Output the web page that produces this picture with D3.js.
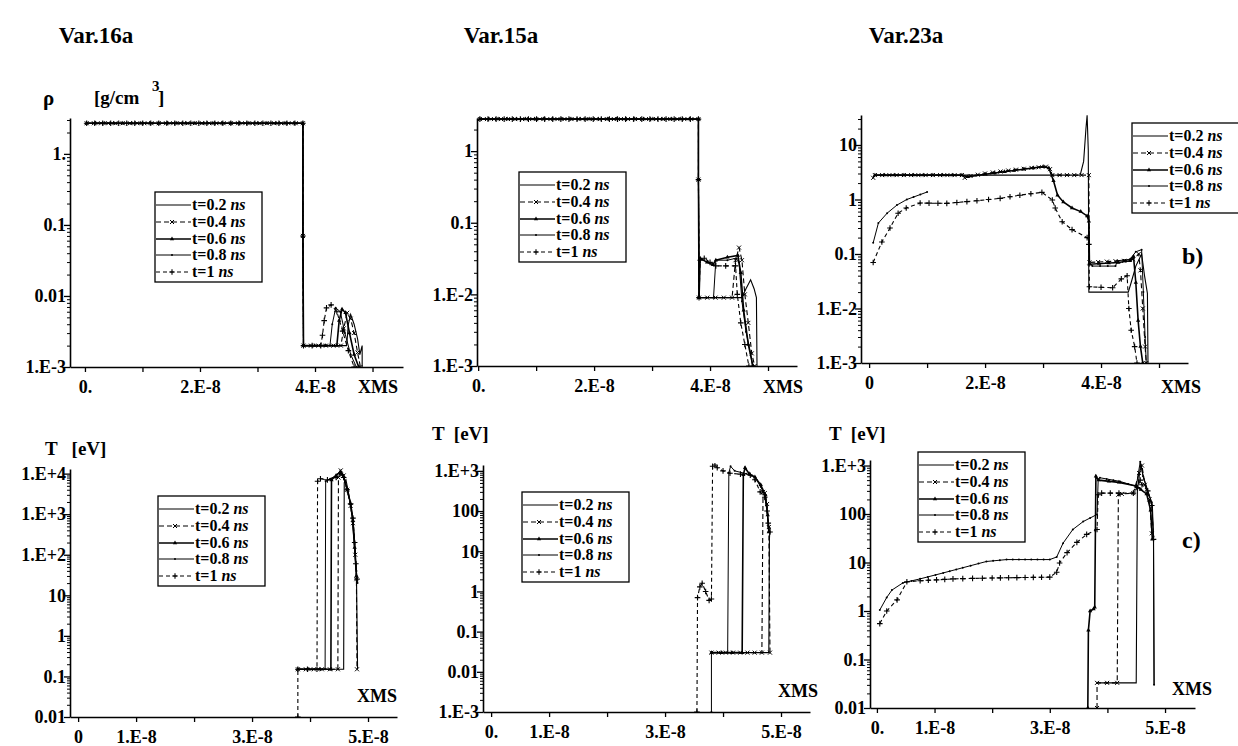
<!DOCTYPE html>
<html><head><meta charset="utf-8">
<script src="https://cdn.jsdelivr.net/npm/d3@7"></script>
<style>body{margin:0;background:#fff}</style></head>
<body><svg id="c" width="1238" height="746"></svg>
<script>
// ---------- DATA (x in units of 1e-8 XMS) ----------
const seriesNames = ["t=0.2", "t=0.4", "t=0.6", "t=0.8", "t=1"];
const panelTitles = ["Var.16a", "Var.15a", "Var.23a"];
const xTickValues = [0, 1, 2, 3, 4, 5];

const rho16_t02 = [[0.03,2.7],[3.79,2.7],[3.79,0.07],[3.8,0.002],[4.55,0.002],[4.58,0.004],[4.62,0.0055],[4.68,0.004],[4.74,0.0025],[4.78,0.0015],[4.82,0.002],[4.82,0.001]];
const rho16_t04 = [[0.03,2.7],[3.79,2.7],[3.79,0.07],[3.8,0.002],[4.45,0.002],[4.5,0.0035],[4.56,0.0058],[4.62,0.0048],[4.68,0.003],[4.74,0.0016],[4.79,0.001]];
const rho16_t06 = [[0.03,2.7],[3.79,2.7],[3.79,0.07],[3.8,0.002],[4.38,0.002],[4.42,0.0045],[4.47,0.0065],[4.53,0.0058],[4.6,0.003],[4.68,0.0015],[4.76,0.001]];
const rho16_t08 = [[0.03,2.7],[3.79,2.7],[3.79,0.07],[3.8,0.002],[4.26,0.002],[4.3,0.004],[4.36,0.0068],[4.44,0.006],[4.52,0.003],[4.62,0.0015],[4.72,0.001]];
const rho16_t10 = [[0.03,2.7],[3.79,2.7],[3.79,0.07],[3.8,0.002],[4.1,0.002],[4.13,0.0028],[4.16,0.0045],[4.2,0.0068],[4.28,0.0075],[4.38,0.006],[4.48,0.0032],[4.58,0.0017],[4.68,0.001]];

const rho15_t02 = [[0.03,2.8],[3.8,2.8],[3.8,0.4],[3.81,0.009],[4.55,0.009],[4.62,0.012],[4.7,0.016],[4.76,0.012],[4.8,0.009],[4.81,0.001]];
const rho15_t04 = [[0.03,2.8],[3.8,2.8],[3.8,0.4],[3.81,0.009],[4.38,0.009],[4.44,0.03],[4.5,0.045],[4.55,0.03],[4.6,0.01],[4.66,0.004],[4.72,0.0015],[4.77,0.001]];
const rho15_t06 = [[0.03,2.8],[3.8,2.8],[3.8,0.4],[3.81,0.009],[3.83,0.032],[3.95,0.028],[4.05,0.026],[4.1,0.03],[4.3,0.033],[4.48,0.035],[4.53,0.02],[4.58,0.006],[4.66,0.002],[4.74,0.001]];
const rho15_t08 = [[0.03,2.8],[3.8,2.8],[3.8,0.4],[3.81,0.009],[4.06,0.009],[4.1,0.03],[4.3,0.03],[4.45,0.032],[4.5,0.028],[4.55,0.008],[4.62,0.003],[4.7,0.0015],[4.73,0.001]];
const rho15_t10 = [[0.03,2.8],[3.8,2.8],[3.8,0.4],[3.81,0.009],[3.83,0.03],[3.9,0.032],[4.0,0.028],[4.1,0.025],[4.44,0.025],[4.47,0.01],[4.53,0.004],[4.6,0.002],[4.67,0.001]];

const rho23_t02 = [[0.07,2.5],[0.1,2.8],[3.64,2.8],[3.7,5],[3.74,20],[3.76,35],[3.78,8],[3.79,0.02],[4.47,0.02],[4.52,0.03],[4.6,0.06],[4.7,0.1],[4.75,0.04],[4.8,0.019],[4.81,0.001]];
const rho23_t04 = [[0.07,2.5],[0.1,2.8],[1.6,2.8],[1.65,2.5],[1.75,2.7],[2.0,3.0],[2.4,3.4],[2.8,3.8],[3.05,4.0],[3.12,3.6],[3.16,2.8],[3.79,2.8],[3.8,0.07],[4.4,0.075],[4.55,0.08],[4.65,0.1],[4.68,0.05],[4.72,0.01],[4.76,0.002],[4.78,0.001]];
const rho23_t06 = [[0.1,2.8],[1.6,2.8],[1.7,2.6],[2.0,2.9],[2.5,3.4],[3.0,4.0],[3.1,3.8],[3.18,2.2],[3.25,1.2],[3.35,0.9],[3.5,0.7],[3.65,0.6],[3.76,0.5],[3.79,0.4],[3.8,0.065],[4.3,0.07],[4.5,0.075],[4.56,0.09],[4.6,0.03],[4.64,0.006],[4.68,0.002],[4.72,0.001]];
const rho23_t08 = [[0.07,0.16],[0.16,0.37],[0.31,0.56],[0.48,0.79],[0.65,1.0],[1.0,1.37],null,[3.79,0.3],[3.8,0.07],[3.85,0.06],[4.25,0.06],[4.28,0.075],[4.5,0.08],[4.6,0.11],[4.7,0.12],[4.73,0.02],[4.76,0.003],[4.78,0.001]];
const rho23_t10 = [[0.07,0.07],[0.22,0.166],[0.36,0.3],[0.5,0.56],[0.64,0.7],[0.88,0.86],[1.34,0.85],[1.86,0.95],[2.26,1.05],[2.6,1.2],[2.98,1.35],[3.16,0.98],[3.21,0.7],[3.33,0.39],[3.5,0.28],[3.76,0.2],[3.79,0.15],[3.8,0.025],[4.2,0.024],[4.35,0.035],[4.45,0.04],[4.48,0.01],[4.52,0.004],[4.58,0.002],[4.62,0.001]];

const T16_t02 = [[3.79,0.15],[4.58,0.15],[4.59,6000],[4.62,7000],[4.67,3000],[4.72,1000],[4.75,300],[4.78,80],[4.8,40],[4.82,0.15]];
const T16_t04 = [[3.79,0.15],[4.48,0.15],[4.49,8000],[4.53,12000],[4.58,9000],[4.64,4000],[4.7,1600],[4.74,600],[4.78,100],[4.8,25],[4.81,0.15]];
const T16_t06 = [[3.79,0.15],[4.36,0.15],[4.37,7000],[4.45,9000],[4.52,11000],[4.58,8500],[4.64,4200],[4.7,1800],[4.74,700],[4.77,150],[4.8,30]];
const T16_t08 = [[3.79,0.15],[4.26,0.15],[4.27,6500],[4.35,7500],[4.45,9000],[4.52,11000],[4.58,8000],[4.64,4000],[4.7,1800],[4.74,800],[4.77,200],[4.8,40],[4.82,20]];
const T16_t10 = [[3.79,0.01],[3.79,0.15],[4.12,0.15],[4.13,6500],[4.18,7500],[4.3,7000],[4.45,8000],[4.52,10000],[4.58,8000],[4.64,4000],[4.7,1800],[4.74,800],[4.77,200],[4.79,60],[4.81,25]];

const T15_t02 = [[3.8,0.03],[4.79,0.03],[4.8,20],[4.81,40]];
const T15_t04 = [[3.8,0.03],[4.67,0.03],[4.69,300],[4.72,280],[4.76,150],[4.79,40],[4.81,0.03]];
const T15_t06 = [[3.8,0.03],[4.33,0.03],[4.35,800],[4.38,1200],[4.45,850],[4.55,700],[4.65,450],[4.73,250],[4.77,80],[4.79,30]];
const T15_t08 = [[3.8,0.001],[3.8,0.03],[4.08,0.03],[4.1,900],[4.13,1300],[4.2,1000],[4.4,850],[4.55,700],[4.65,400],[4.72,250],[4.76,100],[4.78,40]];
const T15_t10 = [[3.55,0.001],[3.56,0.7],[3.6,1.3],[3.64,1.6],[3.7,1.0],[3.76,0.6],[3.8,0.65],[3.82,1300],[3.86,1400],[3.9,1200],[4.0,1000],[4.12,870],[4.3,830],[4.47,780],[4.55,600],[4.64,300],[4.72,220],[4.76,100],[4.78,50],[4.81,30]];

const T23_t02 = [[3.82,0.033],[4.5,0.033],[4.52,300],[4.58,1100],[4.62,600],[4.7,300],[4.78,150],[4.8,30],[4.81,0.03]];
const T23_t04 = [[3.82,0.01],[3.82,0.033],[4.17,0.033],[4.19,250],[4.25,260],[4.45,270],[4.55,700],[4.6,1000],[4.65,400],[4.73,200],[4.77,40]];
const T23_t06 = [[3.66,0.01],[3.67,0.4],[3.7,1.0],[3.76,1.1],[3.78,1.2],[3.8,600],[3.85,500],[4.2,450],[4.5,380],[4.58,320],[4.68,260],[4.75,120],[4.78,30]];
const T23_t08 = [[0.05,1.05],[0.17,1.9],[0.26,2.7],[0.45,3.8],[0.75,4.6],[1.15,6.1],[1.49,7.8],[1.9,10.5],[2.25,11.5],[3.0,11.5],[3.12,13],[3.23,25],[3.4,48],[3.58,70],[3.82,98],[3.84,510],[3.87,560],[4.22,470],[4.5,370],[4.57,1200],[4.62,600],[4.69,320],[4.77,175],[4.8,34],[4.81,0.03]];
const T23_t10 = [[0.05,0.55],[0.17,1.0],[0.35,1.7],[0.52,4.0],[0.75,4.2],[1.32,4.6],[2.0,4.8],[3.0,5.0],[3.12,6.3],[3.17,9.8],[3.3,16],[3.47,26],[3.64,38],[3.82,48],[3.84,250],[3.9,270],[4.2,270],[4.45,270],[4.52,350],[4.57,500],[4.6,400],[4.7,300],[4.77,150],[4.8,30]];

const yTicks_rho16 = [[1,"1."],[0.1,"0.1"],[0.01,"0.01"],[0.001,"1.E-3"]];
const yTicks_rho15 = [[1,"1"],[0.1,"0.1"],[0.01,"1.E-2"],[0.001,"1.E-3"]];
const yTicks_rho23 = [[10,"10"],[1,"1"],[0.1,"0.1"],[0.01,"1.E-2"],[0.001,"1.E-3"]];
const yTicks_T16 = [[1e4,"1.E+4"],[1e3,"1.E+3"],[100,"1.E+2"],[10,"10"],[1,"1"],[0.1,"0.1"],[0.01,"0.01"]];
const yTicks_T15 = [[1e3,"1.E+3"],[100,"100"],[10,"10"],[1,"1"],[0.1,"0.1"],[0.01,"0.01"],[0.001,"1.E-3"]];
const yTicks_T23 = [[1e3,"1.E+3"],[100,"100"],[10,"10"],[1,"1"],[0.1,"0.1"],[0.01,"0.01"]];
const xTicks_top = [[0,"0."],[2,"2.E-8"],[4,"4.E-8"]];
const xTicks_top3 = [[0,"0"],[2,"2.E-8"],[4,"4.E-8"]];
const xTicks_bot1 = [[0,"0"],[1,"1.E-8"],[3,"3.E-8"],[5,"5.E-8"]];
const xTicks_bot = [[0,"0."],[1,"1.E-8"],[3,"3.E-8"],[5,"5.E-8"]];

// ---------- LAYOUT ----------
const FONT = "'Liberation Serif'";
const panels = [
  {l:70,r:403,t:118,b:367,xd:[-0.26,5.53],yd:[1e-3,3.2],series:[rho16_t02,rho16_t04,rho16_t06,rho16_t08,rho16_t10],yt:yTicks_rho16,xt:xTicks_top,leg:[155,192],xms:[378,393]},
  {l:477,r:797,t:118,b:366,xd:[-0.02,5.5],yd:[1e-3,2.9],series:[rho15_t02,rho15_t04,rho15_t06,rho15_t08,rho15_t10],yt:yTicks_rho15,xt:xTicks_top,leg:[519,172],xms:[783,393]},
  {l:861,r:1188,t:115,b:363,xd:[-0.14,5.5],yd:[1e-3,35.5],series:[rho23_t02,rho23_t04,rho23_t06,rho23_t08,rho23_t10],yt:yTicks_rho23,xt:xTicks_top3,leg:[1132,123],xms:[1181,393]},
  {l:70,r:397,t:469,b:717,xd:[-0.14,5.5],yd:[0.01,1.3e4],series:[T16_t02,T16_t04,T16_t06,T16_t08,T16_t10],yt:yTicks_T16,xt:xTicks_bot1,leg:[158,496],xms:[377,702]},
  {l:483,r:810,t:465,b:712,xd:[-0.14,5.5],yd:[1e-3,1.4e3],series:[T15_t02,T15_t04,T15_t06,T15_t08,T15_t10],yt:yTicks_T15,xt:xTicks_bot,leg:[522,492],xms:[798,697]},
  {l:870,r:1195,t:460,b:708,xd:[-0.12,5.52],yd:[0.01,1.3e3],series:[T23_t02,T23_t04,T23_t06,T23_t08,T23_t10],yt:yTicks_T23,xt:xTicks_bot,leg:[918,452],xms:[1192,695]}
];

const styles = [
  {w:1.1, dash:null, mk:null, sp:0},
  {w:1.1, dash:"5,3", mk:"x", sp:7},
  {w:1.6, dash:null, mk:"tri", sp:9},
  {w:1.0, dash:null, mk:"dot", sp:6},
  {w:1.1, dash:"4,3", mk:"plus", sp:8}
];

const svg = d3.select("#c");

function setFont(sel, size) {
  sel.attr("font-family", FONT).attr("font-weight", "bold").attr("font-size", size).attr("fill", "#000")
     .style("font-family", FONT).style("font-weight", "bold").style("font-size", size + "px");
  return sel;
}
function txt(parent, x, y, size, s) {
  const t = parent.append("text").attr("x", x).attr("y", y);
  setFont(t, size);
  if (s !== null) t.text(s);
  return t;
}

function drawMarker(g, kind, px, py) {
  if (kind === "x") {
    g.append("path").attr("d",`M${px-2},${py-2}L${px+2},${py+2}M${px-2},${py+2}L${px+2},${py-2}`).attr("stroke","#000").attr("stroke-width",1);
  } else if (kind === "plus") {
    g.append("path").attr("d",`M${px-2.8},${py}H${px+2.8}M${px},${py-2.8}V${py+2.8}`).attr("stroke","#000").attr("stroke-width",1.1);
  } else if (kind === "tri") {
    g.append("path").attr("d", d3.symbol(d3.symbolTriangle, 8)()).attr("transform",`translate(${px},${py})`).attr("fill","#000");
  } else if (kind === "dot") {
    g.append("circle").attr("cx",px).attr("cy",py).attr("r",1).attr("fill","#000");
  }
}

function styleAxis(s) {
  s.attr("font-family", FONT).attr("font-size", 18);
  setFont(s.selectAll("text"), 18);
  s.selectAll("line").attr("stroke","#000");
}

panels.forEach((p, pi) => {
  const x = d3.scaleLinear().domain(p.xd).range([p.l, p.r]);
  const y = d3.scaleLog().domain(p.yd).range([p.b, p.t]);
  const g = svg.append("g");

  const cid = "clip" + pi;
  svg.append("clipPath").attr("id", cid).append("rect")
    .attr("x", p.l).attr("y", p.t - 2).attr("width", p.r - p.l).attr("height", p.b - p.t + 2);

  const minor = [];
  const k0 = Math.floor(Math.log10(p.yd[0])), k1 = Math.ceil(Math.log10(p.yd[1]));
  for (let k = k0; k <= k1; k++) for (let m = 2; m <= 9; m++) {
    const v = m * Math.pow(10, k);
    if (v > p.yd[0] && v < p.yd[1]) minor.push(v);
  }
  g.append("g").attr("transform",`translate(${p.l},0)`)
    .call(d3.axisLeft(y).tickValues(minor).tickFormat("").tickSize(3).tickSizeOuter(0))
    .call(s => s.selectAll("line").attr("stroke-width",1).attr("stroke","#000"))
    .call(s => s.select(".domain").remove());

  const ylab = new Map(p.yt);
  g.append("g").attr("transform",`translate(${p.l},0)`)
    .call(d3.axisLeft(y).tickValues(p.yt.map(d => d[0])).tickFormat(d => ylab.get(d)).tickSize(6).tickSizeOuter(0).tickPadding(-2))
    .call(styleAxis)
    .call(s => s.select(".domain").attr("stroke-width",1.6).attr("stroke","#000"))
    .call(s => s.selectAll("line").attr("stroke-width",1.3));

  const xlab = new Map(p.xt);
  g.append("g").attr("transform",`translate(0,${p.b})`)
    .call(d3.axisBottom(x).tickValues(xTickValues).tickFormat(d => xlab.has(d) ? xlab.get(d) : "").tickSize(5).tickSizeOuter(0).tickPadding(8))
    .call(styleAxis)
    .call(s => s.select(".domain").attr("stroke-width",1.6).attr("stroke","#000"))
    .call(s => s.selectAll("line").attr("stroke-width",1.3));

  txt(g, p.xms[0], p.xms[1], 18, "XMS").attr("text-anchor","middle");

  const dg = g.append("g").attr("clip-path", `url(#${cid})`);
  const line = d3.line().defined(d => d !== null).x(d => x(d[0])).y(d => y(d[1]));
  p.series.forEach((data, si) => {
    const st = styles[si];
    dg.append("path").attr("d", line(data)).attr("fill","none").attr("stroke","#000")
      .attr("stroke-width", st.w).attr("stroke-dasharray", st.dash);
    if (st.mk) {
      const mg = dg.append("g");
      for (let i = 0; i < data.length; i++) {
        if (!data[i]) continue;
        const ax = x(data[i][0]), ay = y(data[i][1]);
        drawMarker(mg, st.mk, ax, ay);
        const nx = data[i + 1];
        if (!nx) continue;
        const bx = x(nx[0]), by = y(nx[1]);
        const n = Math.floor(Math.abs(bx - ax) / st.sp);
        for (let j = 1; j < n; j++) {
          const f = j / n;
          drawMarker(mg, st.mk, ax + (bx - ax) * f, ay + (by - ay) * f);
        }
      }
    }
  });

  const [lx, ly] = p.leg;
  const lg = g.append("g");
  lg.append("rect").attr("x", lx).attr("y", ly).attr("width", 107).attr("height", 90)
    .attr("fill","#fff").attr("stroke","#000").attr("stroke-width",1.3);
  const rows = [13, 30, 47, 63, 80];
  seriesNames.forEach((nm, si) => {
    const st = styles[si];
    const yy = ly + rows[si];
    lg.append("line").attr("x1", lx + 1).attr("x2", lx + 36).attr("y1", yy).attr("y2", yy)
      .attr("stroke","#000").attr("stroke-width", st.w).attr("stroke-dasharray", st.dash);
    if (st.mk) drawMarker(lg, st.mk, lx + 17, yy);
    const t = txt(lg, lx + 37, yy + 5, 16, null);
    t.append("tspan").text(nm + " ");
    t.append("tspan").attr("font-style","italic").style("font-style","italic").text("ns");
  });
});

const titleX = [96, 501, 906];
panelTitles.forEach((t, i) => {
  txt(svg, titleX[i], 43, 23, t).attr("text-anchor","middle");
});

txt(svg, 43, 105, 21, "ρ");
txt(svg, 94, 104, 19, "[g/cm");
txt(svg, 152, 91, 15, "3");
txt(svg, 158, 104, 19, "]");

[[45,455,"T   [eV]"],[432,440,"T  [eV]"],[829,440,"T  [eV]"]].forEach(([tx, ty, s]) => {
  txt(svg, tx, ty, 19, s).style("white-space","pre");
});

txt(svg, 1182, 264, 24, "b)");
txt(svg, 1182, 548, 24, "c)");
</script></body></html>
